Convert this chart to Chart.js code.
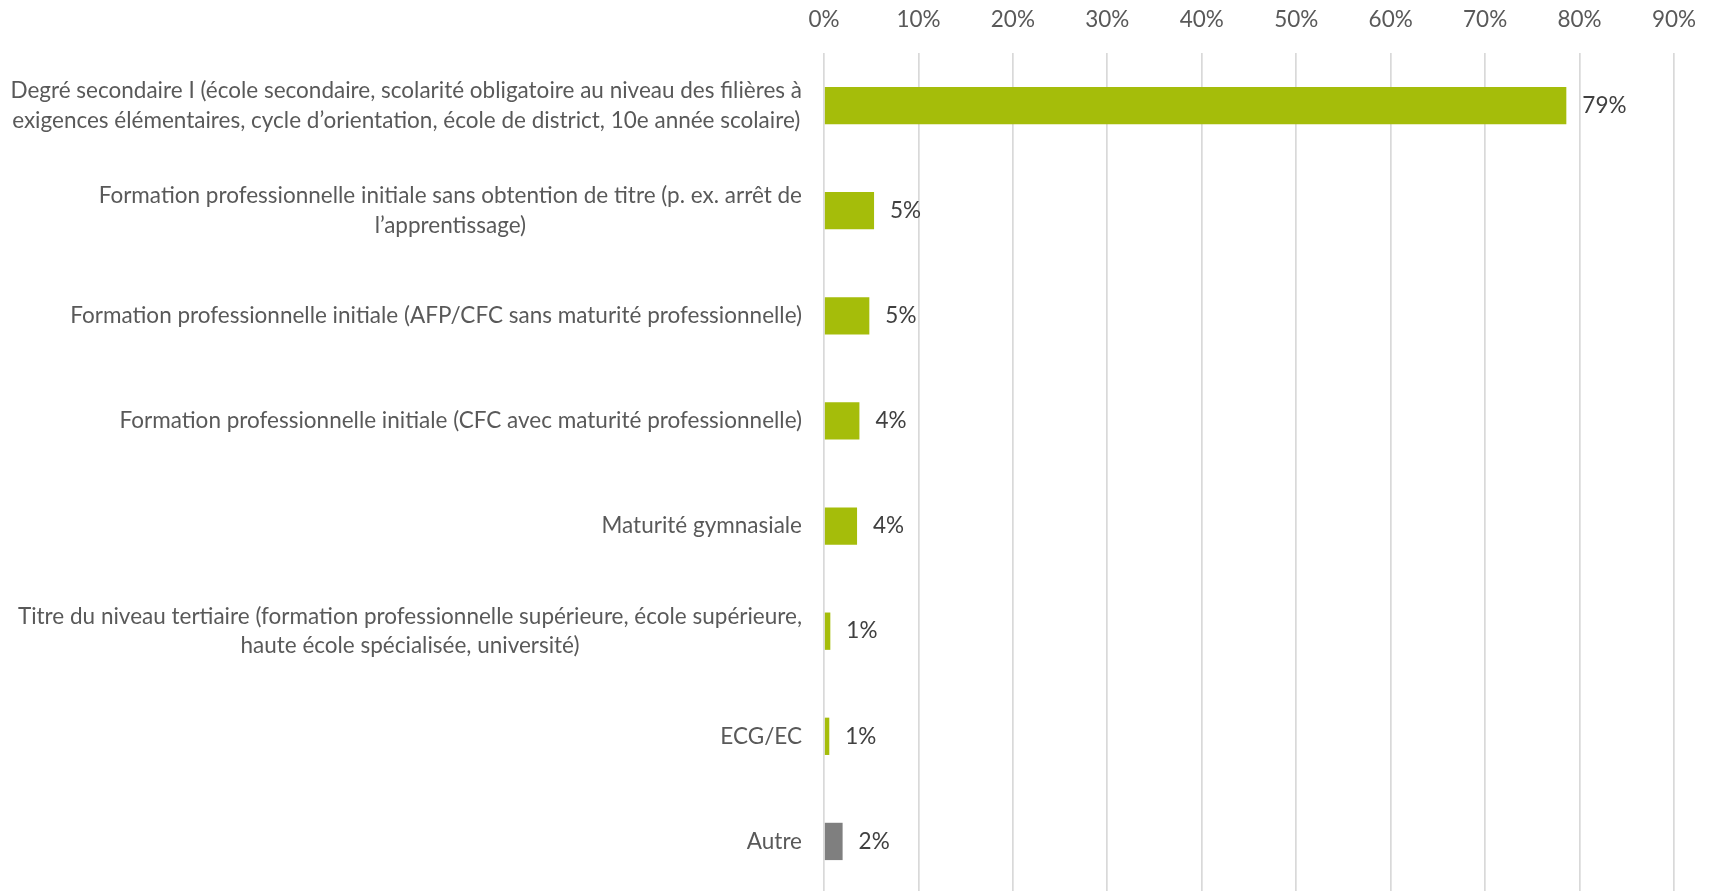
<!DOCTYPE html>
<html>
<head>
<meta charset="utf-8">
<script src="https://cdn.jsdelivr.net/npm/chart.js@4"></script>
<style>
  html, body { margin: 0; padding: 0; background: #fff; overflow: hidden; }
  #wrap { width: 1709px; height: 891px; position: relative; overflow: hidden; }
</style>
</head>
<body>
<div id="wrap"><canvas id="c" width="1709" height="894"></canvas></div>
<script>
const categories = [
  ["Degré secondaire I (école secondaire, scolarité obligatoire au niveau des filières à", "exigences élémentaires, cycle d’orientation, école de district, 10e année scolaire)"],
  ["Formation professionnelle initiale sans obtention de titre (p. ex. arrêt de", "l’apprentissage)"],
  ["Formation professionnelle initiale (AFP/CFC sans maturité professionnelle)"],
  ["Formation professionnelle initiale (CFC avec maturité professionnelle)"],
  ["Maturité gymnasiale"],
  ["Titre du niveau tertiaire (formation professionnelle supérieure, école supérieure,", "haute école spécialisée, université)"],
  ["ECG/EC"],
  ["Autre"]
];
const values = [78.6, 5.3, 4.8, 3.75, 3.5, 0.67, 0.56, 1.97];
const valueLabels = ["79%", "5%", "5%", "4%", "4%", "1%", "1%", "2%"];
const barColors = ["#A5BD0A", "#A5BD0A", "#A5BD0A", "#A5BD0A", "#A5BD0A", "#A5BD0A", "#A5BD0A", "#7F7F7F"];
const tickValues = [0, 10, 20, 30, 40, 50, 60, 70, 80, 90];

const FONT = "Lato, 'Open Sans', sans-serif";
const FSIZE = 22.5;

const yLabelPlugin = {
  id: 'yLabels',
  afterDraw(chart) {
    const ctx = chart.ctx;
    const ys = chart.scales.y;
    const rightEdge = chart.chartArea.left - 22;
    const lh = 29.5;
    ctx.save();
    ctx.font = FSIZE + "px " + FONT;
    ctx.fillStyle = "#595959";
    ctx.textBaseline = "middle";
    ctx.textAlign = "center";
    categories.forEach((lines, i) => {
      const yc = ys.getPixelForValue(i);
      const maxW = Math.max(...lines.map(l => ctx.measureText(l).width));
      const cx = rightEdge - maxW / 2;
      const y0 = yc - (lines.length - 1) * lh / 2;
      lines.forEach((l, k) => ctx.fillText(l, cx, y0 + k * lh));
    });
    ctx.restore();
  }
};

const valueLabelPlugin = {
  id: 'valueLabels',
  afterDatasetsDraw(chart) {
    const ctx = chart.ctx;
    const meta = chart.getDatasetMeta(0);
    ctx.save();
    ctx.font = FSIZE + "px " + FONT;
    ctx.fillStyle = "#404040";
    ctx.textBaseline = "middle";
    ctx.textAlign = "left";
    meta.data.forEach((bar, i) => {
      ctx.fillText(valueLabels[i], bar.x + 16, bar.y);
    });
    ctx.restore();
  }
};

new Chart(document.getElementById('c'), {
  type: 'bar',
  data: {
    labels: categories.map(c => c.join(' ')),
    datasets: [{
      data: values,
      backgroundColor: barColors,
      borderWidth: 0,
      categoryPercentage: 1,
      barPercentage: 0.355
    }]
  },
  options: {
    indexAxis: 'y',
    responsive: false,
    animation: false,
    layout: { padding: 0 },
    plugins: { legend: { display: false }, tooltip: { enabled: false } },
    scales: {
      x: {
        position: 'top',
        min: 0,
        max: 90,
        afterBuildTicks(scale) { scale.ticks = tickValues.map(v => ({ value: v })); },
        afterFit(scale) { scale.height = 53; scale.paddingRight = 35; scale.paddingLeft = 0; },
        ticks: {
          callback: v => v + '%',
          color: '#595959',
          font: { family: FONT, size: FSIZE },
          padding: 20,
          maxRotation: 0
        },
        grid: { color: '#D9D9D9', lineWidth: 1.7, drawTicks: false },
        border: { display: false }
      },
      y: {
        ticks: { display: false },
        grid: { display: false, drawTicks: false },
        border: { display: false },
        afterFit(scale) { scale.width = 824; }
      }
    }
  },
  plugins: [yLabelPlugin, valueLabelPlugin]
});
</script>
</body>
</html>
